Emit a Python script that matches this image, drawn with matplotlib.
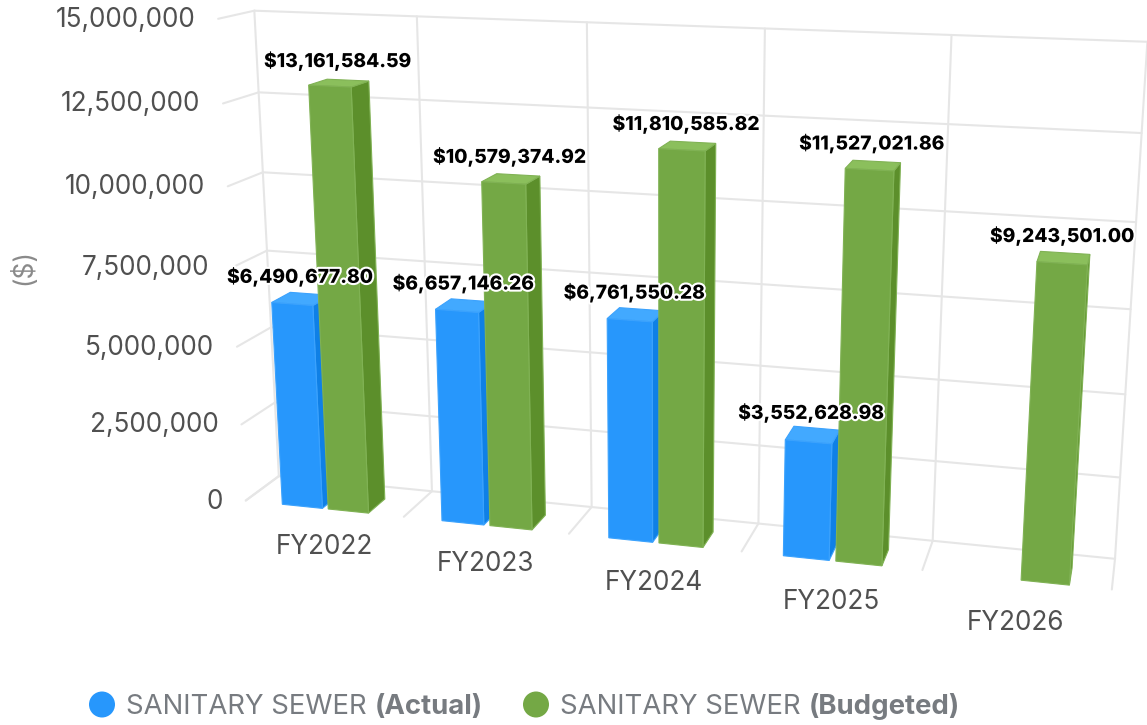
import numpy as np
import matplotlib
matplotlib.use("Agg")
import matplotlib.pyplot as plt
import matplotlib.patheffects as pe
from matplotlib.patches import Polygon, Circle

categories = ["FY2022", "FY2023", "FY2024", "FY2025", "FY2026"]
actual = [6490677.80, 6657146.26, 6761550.28, 3552628.98, None]
budgeted = [13161584.59, 10579374.92, 11810585.82, 11527021.86, 9243501.00]
y_ticks = [0, 2500000, 5000000, 7500000, 10000000, 12500000, 15000000]

# camera calibration: (category, value in millions, depth, pixel x, pixel y)
calib = [
    (-.5, 0, 1, 279, 475), (.5, 0, 1, 432, 490), (1.5, 0, 1, 591, 508),
    (2.5, 0, 1, 759, 524), (3.5, 0, 1, 932, 542), (4.5, 0, 1, 1115, 559),
    (-.5, 15, 1, 254, 10), (.5, 15, 1, 418, 16), (1.5, 15, 1, 587, 23),
    (2.5, 15, 1, 764, 29), (3.5, 15, 1, 951, 35), (4.5, 15, 1, 1148, 42),
    (-.5, 7.5, 1, 267, 251), (4.5, 7.5, 1, 1131, 308),
    (-.5, 0, 0, 246, 502), (.5, 0, 0, 404, 517), (1.5, 0, 0, 569, 534),
    (2.5, 0, 0, 742, 550), (3.5, 0, 0, 922, 570), (4.5, 0, 0, 1112, 589),
    (-.5, 15, 0, 218, 19), (-.5, 7.5, 0, 232, 267),
]


def fit_camera(points):
    rows = []
    for u, v, d, px, py in points:
        p = [u, v / 15.0, d, 1.0]
        px, py = px / 1000.0, py / 1000.0
        rows.append(p + [0, 0, 0, 0] + [-px * c for c in p])
        rows.append([0, 0, 0, 0] + p + [-py * c for c in p])
    return np.linalg.svd(np.array(rows))[2][-1].reshape(3, 4)


cam = fit_camera(calib)


def project(u, v, d):
    x, y, w = cam @ np.array([u, v / 15e6, d, 1.0])
    return 1000 * x / w, 1000 * y / w


plt.rcParams["font.family"] = ["Inter", "DejaVu Sans"]
fig = plt.figure(figsize=(11.47, 7.25), dpi=100)
ax = fig.add_axes([0, 0, 1, 1])
ax.set_xlim(0, 1147)
ax.set_ylim(725, 0)
ax.axis("off")

GRID = "#e6e6e6"
TEXT = "#505050"


def wall_line(a, b):
    xs, ys = zip(project(*a), project(*b))
    ax.plot(xs, ys, color=GRID, lw=1.5, zorder=1, solid_capstyle="round")


for t in y_ticks:
    wall_line((-.5, t, 1), (4.5, t, 1))
    wall_line((-.5, t, 0), (-.5, t, 1))
    x, y = project(-.5, t, 0)
    ax.text(x - 23, y + 1, f"{t:,}", ha="right", va="center", fontsize=18.8,
            color=TEXT, fontweight="normal")

for i in range(len(categories) + 1):
    u = i - .5
    wall_line((u, 0, 1), (u, 15e6, 1))
    wall_line((u, 0, 0), (u, 0, 1))

for i, name in enumerate(categories):
    x, y = project(i, 0, 0)
    ax.text(x, y + 38 + 1.25 * i, name, ha="center", va="center", fontsize=18.8,
            color=TEXT, fontweight="normal")

ax.text(24, 267, "($)", rotation=90, ha="center", va="center", fontsize=19,
        color="#8a8a8a", fontweight="normal")

BAR_DEPTH = .55
labels = []


def draw_bar(u0, u1, v, front, side, top, edge):
    def face(corners, color, z):
        ax.add_patch(Polygon([project(*c) for c in corners], closed=True,
                             facecolor=color, edgecolor=edge, lw=.8, zorder=z))
    d = BAR_DEPTH
    face([(u1, 0, 0), (u1, 0, d), (u1, v, d), (u1, v, 0)], side, draw_bar.z)
    face([(u0, v, 0), (u1, v, 0), (u1, v, d), (u0, v, d)], top, draw_bar.z)
    face([(u0, 0, 0), (u1, 0, 0), (u1, v, 0), (u0, v, 0)], front, draw_bar.z)
    draw_bar.z += 1
    x, y = project((u0 + u1) / 2, v, d / 2)
    labels.append((x - 1.5, y - 22, f"${v:,.2f}"))


draw_bar.z = 2
for i in range(len(categories)):
    if actual[i] is not None:
        draw_bar(i - .265, i - .01, actual[i], "#2797fc", "#0f80e6", "#42a9ff", "#3ba2fd")
    draw_bar(i + .027, i + .28, budgeted[i], "#74a845", "#5c8f2b", "#8bbf5c", "#80b254")

for x, y, s in labels:
    ax.text(x, y, s, ha="center", va="center", fontsize=13.8, color="black",
            fontweight=800, zorder=20,
            path_effects=[pe.withStroke(linewidth=3, foreground="white")])

# legend
LEGEND_GREY = "#777b80"
fig.canvas.draw()
renderer = fig.canvas.get_renderer()
for cx, color, name in [(102, "#2797fc", "(Actual)"), (536, "#74a845", "(Budgeted)")]:
    ax.add_patch(Circle((cx, 704.5), 13, facecolor=color, edgecolor="none"))
    t = ax.text(cx + 24, 707, "SANITARY SEWER", ha="left", va="center", fontsize=19.8,
                color=LEGEND_GREY, fontweight="normal")
    end = t.get_window_extent(renderer).x1
    ax.text(end + 8, 707, name, ha="left", va="center", fontsize=19.8,
            color=LEGEND_GREY, fontweight="bold")

fig.savefig("out.png", dpi=100)
